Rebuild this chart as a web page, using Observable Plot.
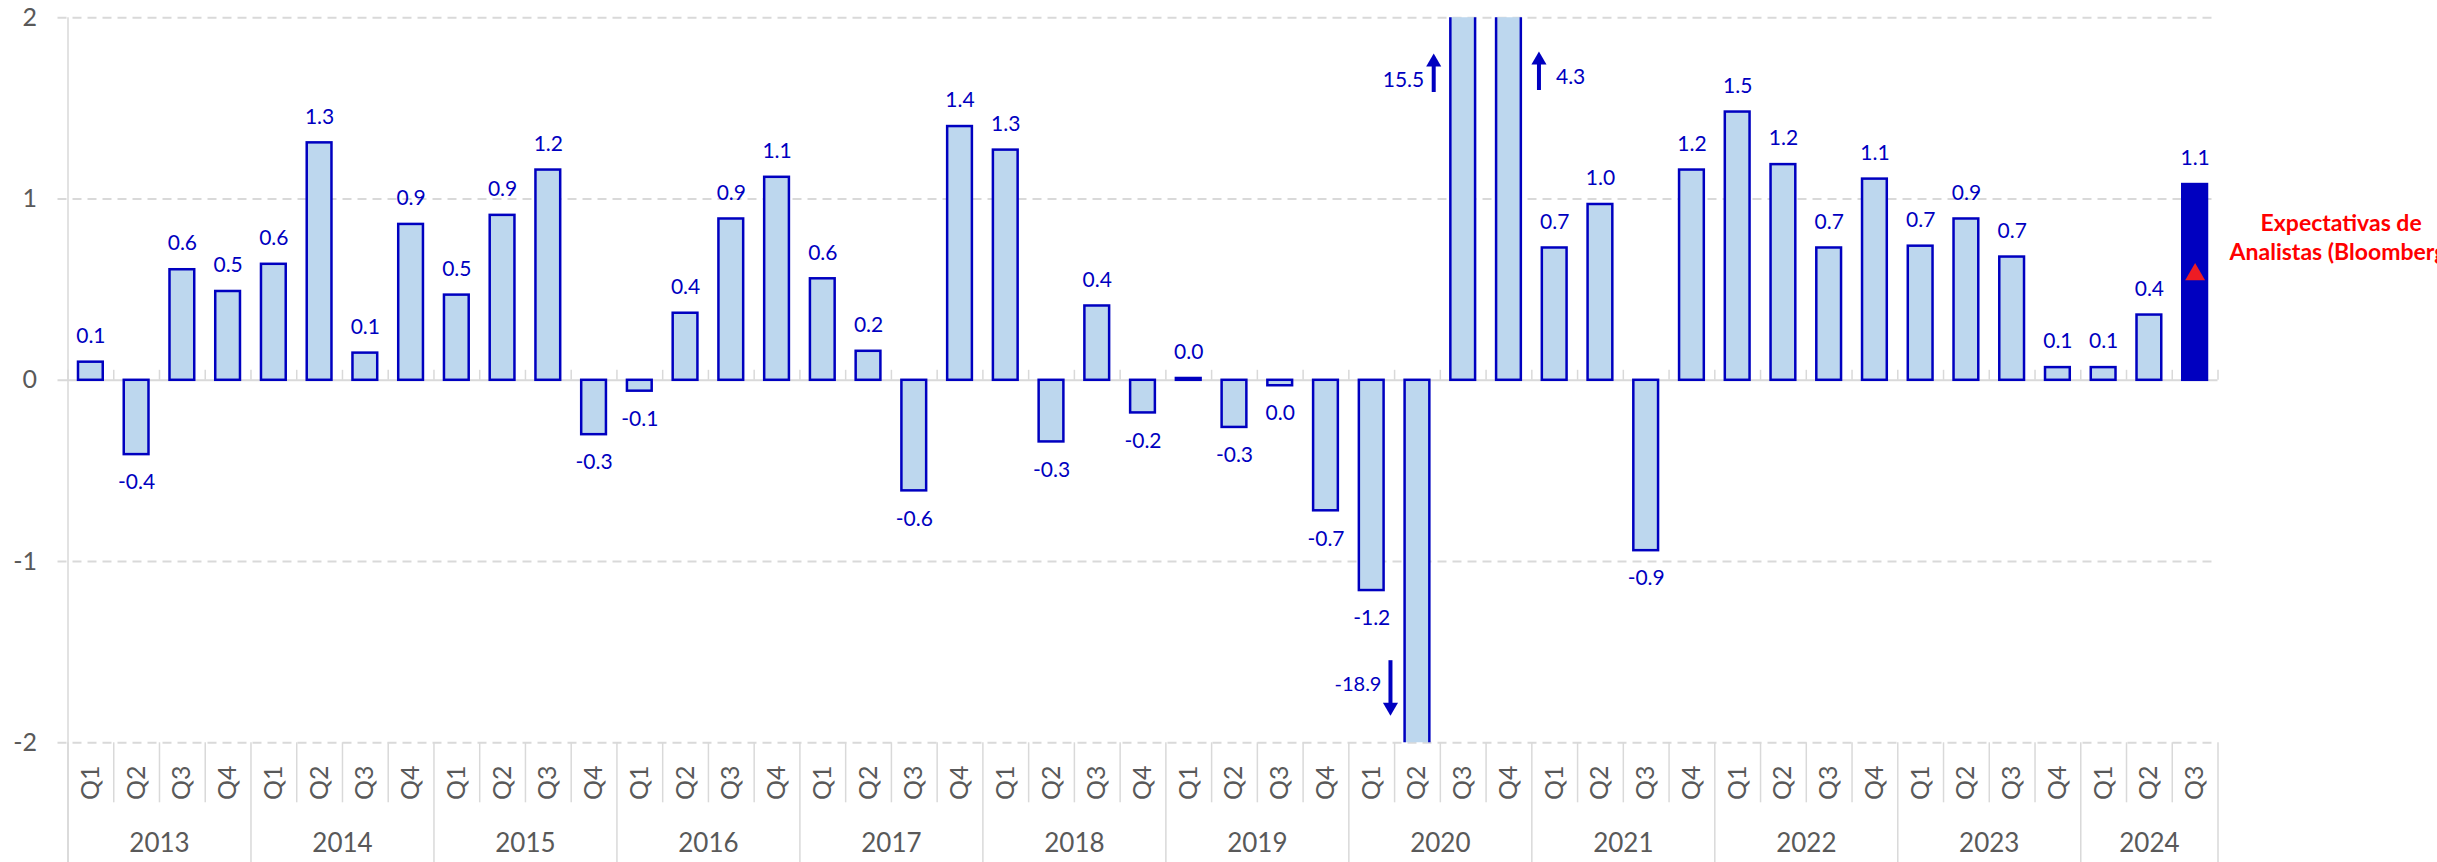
<!DOCTYPE html>
<html>
<head>
<meta charset="utf-8">
<script src="https://cdn.jsdelivr.net/npm/d3@7"></script>
<script src="https://cdn.jsdelivr.net/npm/@observablehq/plot@0.6"></script>
<style>html,body{margin:0;padding:0;background:#fff;overflow:hidden}</style>
</head>
<body>
<div id="chart"></div>
<script>
// ---- data ----
const years = ["2013","2014","2015","2016","2017","2018","2019","2020","2021","2022","2023","2024"];
const quarters = ["Q1","Q2","Q3","Q4"];
const values = [
  0.10, -0.41, 0.61, 0.49,
  0.64, 1.31, 0.15, 0.86,
  0.47, 0.91, 1.16, -0.30,
  -0.06, 0.37, 0.89, 1.12,
  0.56, 0.16, -0.61, 1.40,
  1.27, -0.34, 0.41, -0.18,
  0.01, -0.26, -0.03, -0.72,
  -1.16, -18.9, 15.5, 4.3,
  0.73, 0.97, -0.94, 1.16,
  1.48, 1.19, 0.73, 1.11,
  0.74, 0.89, 0.68, 0.07,
  0.07, 0.36, 1.08
];
const yTicks = [-2, -1, 0, 1, 2];
const expectation = 0.6;
const expectationLabel = "Expectativas de\nAnalistas (Bloomberg)";

// ---- derived ----
const rows = values.map((v, i) => ({
  i, v,
  year: years[Math.floor(i / 4)],
  q: quarters[i % 4],
  last: i === values.length - 1
}));
const yearRows = years.map(y => {
  const idx = rows.filter(r => r.year === y).map(r => r.i);
  return {year: y, mid: d3.mean(idx), start: d3.min(idx) - 0.5, end: d3.max(idx) + 0.5};
});
const yearBounds = [...yearRows.map(d => d.start), yearRows[yearRows.length - 1].end];
const lastRow = rows[rows.length - 1];

const fmt = v => Math.abs(v) < 0.05 ? "0.0" : v.toFixed(1);
const inRange = r => Math.abs(r.v) <= 2;

const gray = "#D9D9D9";
const textGray = "#595959";
const blue = "#0000C0";
const light = "#BDD7EE";
const red = "#FF0000";

// annotation layout for out-of-range bars (keyed by bar index)
const annotLayout = {
  29: {anchor: "end",   arrowDx: -27,   textDx: -36, yTail: -1.547, yTip: -1.851, yText: -1.678, fs: 20},
  30: {anchor: "end",   arrowDx: -29.5, textDx: -39, yTail: 1.588,  yTip: 1.803,  yText: 1.654,  fs: 21},
  31: {anchor: "start", arrowDx: 30,    textDx: 47,  yTail: 1.599,  yTip: 1.814,  yText: 1.671,  fs: 21}
};
const yPerPx = 4 / (862 - 17.3 - 119.7);

const annotMarks = rows.filter(r => !inRange(r)).flatMap(r => {
  const L = annotLayout[r.i];
  const up = r.v > 0;
  const sHalf = 8.66; // triangle centroid offset from tip (px)
  const yCent = up ? L.yTip - sHalf * yPerPx : L.yTip + sHalf * yPerPx;
  return [
    Plot.ruleX([r], {x: "i", y1: () => L.yTail, y2: () => yCent, dx: L.arrowDx, stroke: blue, strokeWidth: 4}),
    Plot.dot([r], {x: "i", y: () => yCent, dx: L.arrowDx, symbol: "triangle2", r: 7.2, fill: blue, stroke: "none", rotate: up ? 0 : 180}),
    Plot.text([r], {x: "i", y: () => L.yText, dx: L.textDx, text: d => fmt(d.v), textAnchor: L.anchor, fill: blue, fontSize: L.fs})
  ];
});

const chart = Plot.plot({
  width: 2437,
  height: 862,
  marginLeft: 67.5,
  marginRight: 219.5,
  marginTop: 17.3,
  marginBottom: 119.7,
  x: {type: "linear", domain: [-0.5, values.length - 0.5], axis: null},
  y: {domain: [-2, 2], axis: null},
  style: {fontFamily: "Lato, 'Open Sans', sans-serif", background: "#fff"},
  marks: [
    Plot.ruleY(yTicks.filter(t => t !== 0), {stroke: gray, strokeWidth: 2, strokeDasharray: "9,6", insetLeft: -10}),
    Plot.ruleY([0], {stroke: gray, strokeWidth: 2, insetLeft: -10}),
    Plot.axisY(yTicks, {tickSize: 0, tickPadding: 31, fontSize: 25, fill: textGray, tickFormat: d => String(d), label: null}),
    // small ticks at category boundaries on the zero line
    Plot.ruleX(d3.range(values.length + 1).map(k => k - 0.5), {y1: 0, y2: 0, insetTop: -10, stroke: gray, strokeWidth: 1.5}),
    // left axis line
    Plot.ruleX([-0.5], {y1: 2, y2: -2, insetBottom: -119.7, stroke: gray, strokeWidth: 1.5}),
    // quarter separators in the label area
    Plot.ruleX(rows.filter(r => r.q !== "Q1"), {x: r => r.i - 0.5, y1: -2, y2: -2, insetBottom: -60, stroke: gray, strokeWidth: 1.5}),
    // year separators
    Plot.ruleX(yearBounds, {y1: -2, y2: -2, insetBottom: -119.7, stroke: gray, strokeWidth: 1.5}),
    // bars
    Plot.rectY(rows, {
      x1: r => r.i - 0.5, x2: r => r.i + 0.5, y1: 0, y2: "v",
      insetLeft: 10.5, insetRight: 10.5,
      fill: r => r.last ? blue : light, stroke: blue, strokeWidth: 2.5, clip: true
    }),
    // value labels
    Plot.text(rows.filter(r => inRange(r) && r.v >= 0), {x: "i", y: "v", text: r => fmt(r.v), dy: -26, fill: blue, fontSize: 21}),
    Plot.text(rows.filter(r => inRange(r) && r.v < 0), {x: "i", y: "v", text: r => fmt(r.v), dy: 28, fill: blue, fontSize: 21}),
    ...annotMarks,
    // quarter labels
    Plot.text(rows, {x: "i", y: -2, text: "q", rotate: -90, dy: 40, fontSize: 25, fill: textGray}),
    // year labels
    Plot.text(yearRows, {x: "mid", y: -2, text: "year", dy: 101, fontSize: 26, fill: textGray}),
    // analysts' expectation
    Plot.dot([{i: lastRow.i, v: expectation}], {x: "i", y: "v", symbol: "triangle2", r: 9.5, fill: "#ED1C24", stroke: "none", dy: 3}),
    Plot.text([{i: lastRow.i, v: expectation}], {x: "i", y: "v", text: () => expectationLabel, dx: 146, dy: -35.5, fill: red, fontWeight: "bold", fontSize: 23, lineHeight: 1.26})
  ]
});
document.getElementById("chart").appendChild(chart);
</script>
</body>
</html>
